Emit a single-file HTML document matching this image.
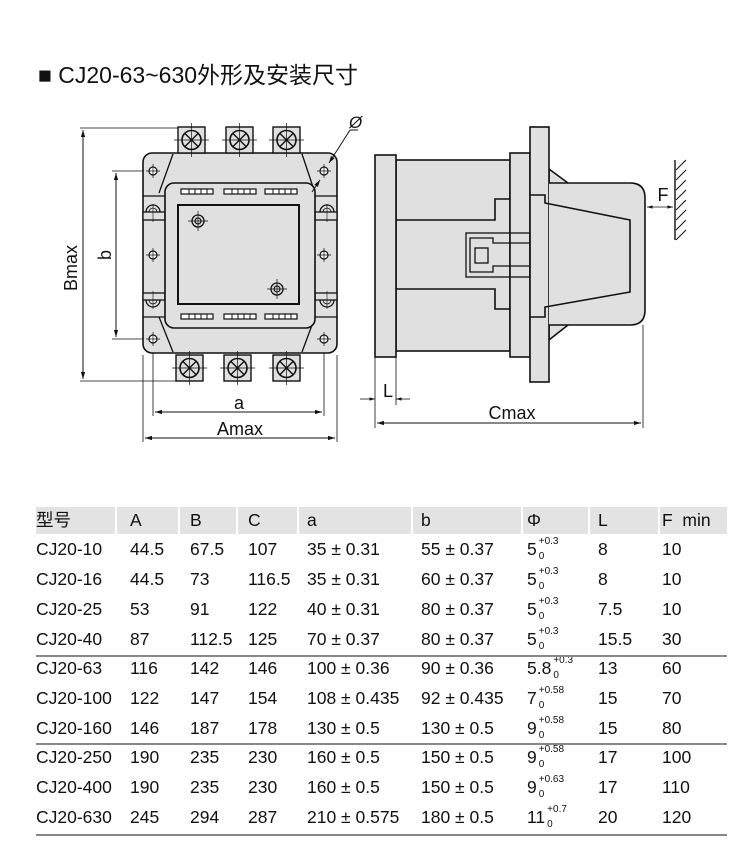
<!DOCTYPE html>
<html><head><meta charset="utf-8"><style>
body{margin:0;background:#fff;width:750px;height:863px;overflow:hidden;position:relative;font-family:"Liberation Sans","Noto Sans CJK SC",sans-serif;}
.t{position:absolute;left:38px;top:56px;font-size:23px;color:#111;white-space:nowrap}
.r{position:absolute;left:36px;height:20px;line-height:20px;font-size:17.5px;color:#111;display:flex;white-space:nowrap}
.r>span{display:block;position:relative}
.r>span:nth-child(1){width:94px}.r>span:nth-child(2){width:60px}.r>span:nth-child(3){width:58px}.r>span:nth-child(4){width:59px}
.r>span:nth-child(5){width:114px}.r>span:nth-child(6){width:106px}.r>span:nth-child(7){width:71px}.r>span:nth-child(8){width:64px}
.hb{position:absolute;top:507px;height:27px;background:#e3e3e3}
.p{display:inline-block;position:relative;line-height:20px}
.p i{font-style:normal;font-size:10px;line-height:10px;position:absolute;left:100%;top:-2px;margin-left:2px}
.p b{font-weight:normal;font-size:10px;line-height:10px;position:absolute;left:100%;top:13px;margin-left:2px}
.ln{position:absolute;left:36px;width:691px;height:2px;background:#888}
</style></head><body>
<div class="t">■ CJ20-63~630外形及安装尺寸</div>
<svg width="750" height="500" style="position:absolute;left:0;top:0" font-family="Liberation Sans, sans-serif">
<defs><marker id="ar" viewBox="0 0 10 10" refX="10" refY="5" markerWidth="7" markerHeight="7" orient="auto-start-reverse"><path d="M0,2 L10,5 L0,8z" fill="#111"/></marker>
<g id="term"><rect x="0" y="0" width="27" height="26" fill="#e0e0e0" stroke="#111" stroke-width="1.4"/><circle cx="13.5" cy="13" r="9.5" fill="none" stroke="#111" stroke-width="1.6"/><path d="M7,6.5L20,19.5M20,6.5L7,19.5" stroke="#111" stroke-width="1.4"/><path d="M-4,13H31M13.5,-4V30" stroke="#111" stroke-width=".7"/></g>
<g id="hole"><circle r="4" fill="#fff" stroke="#111" stroke-width="1.2"/><path d="M-7,0H7M0,-7V7" stroke="#111" stroke-width=".7"/></g>
<g id="scr"><circle r="6" fill="none" stroke="#111" stroke-width="1.3"/><circle r="3" fill="none" stroke="#111" stroke-width="1.2"/><path d="M-10,0H10M0,-10V10" stroke="#111" stroke-width=".7"/></g>
<g id="slot"><rect width="32" height="5" fill="#fff" stroke="#111" stroke-width="1.2"/><path d="M8,0V5M14,0V5M20,0V5M26,0V5" stroke="#111" stroke-width="1"/></g>
</defs>
<g stroke="#111" fill="none">
<path d="M80,128H178M80,381H178M112,171H153M112,339H153M153,345V416M324,345V416M143,355V442M337,355V442" stroke-width=".8"/>
<line x1="83" y1="130" x2="83" y2="379" stroke-width="1" marker-start="url(#ar)" marker-end="url(#ar)"/>
<line x1="116" y1="173" x2="116" y2="337" stroke-width="1" marker-start="url(#ar)" marker-end="url(#ar)"/>
<line x1="155" y1="412" x2="322" y2="412" stroke-width="1" marker-start="url(#ar)" marker-end="url(#ar)"/>
<line x1="145" y1="438" x2="335" y2="438" stroke-width="1" marker-start="url(#ar)" marker-end="url(#ar)"/>
</g>
<rect x="143" y="153" width="194" height="200" rx="9" fill="#e0e0e0" stroke="#111" stroke-width="1.6"/>
<use href="#term" x="178" y="127"/><use href="#term" x="226" y="127"/><use href="#term" x="273" y="127"/>
<use href="#term" x="176" y="355"/><use href="#term" x="224" y="355"/><use href="#term" x="273" y="355"/>
<g stroke="#111" fill="none" stroke-width="1.3">
<path d="M173,154L159,193M302,154L315,193M159,317L173,352M315,317L302,352"/>
<path d="M143,196H165M315,196H337M143,317H165M315,317H337"/>
<rect x="143" y="212" width="22" height="8" fill="#e0e0e0"/><rect x="315" y="212" width="22" height="8" fill="#e0e0e0"/>
<rect x="143" y="293" width="22" height="7" fill="#e0e0e0"/><rect x="315" y="293" width="22" height="7" fill="#e0e0e0"/>
<path d="M146,212A7,7 0 0 1 160,212M320,212A7,7 0 0 1 334,212M146,300A7,7 0 0 0 160,300M320,300A7,7 0 0 0 334,300"/>
<path d="M149,212A4,4 0 0 1 157,212M323,212A4,4 0 0 1 331,212M149,300A4,4 0 0 0 157,300M323,300A4,4 0 0 0 331,300" stroke-width=".8"/>
<path d="M153,204V222M327,204V222M153,291V309M327,291V309" stroke-width=".6"/>
</g>
<rect x="165" y="183" width="150" height="145" rx="9" fill="#e0e0e0" stroke="#111" stroke-width="1.6"/>
<rect x="178" y="205" width="121" height="99" fill="#e0e0e0" stroke="#111" stroke-width="2"/>
<use href="#slot" x="181" y="189"/><use href="#slot" x="224" y="189"/><use href="#slot" x="265" y="189"/>
<use href="#slot" x="181" y="314"/><use href="#slot" x="224" y="314"/><use href="#slot" x="265" y="314"/>
<use href="#scr" x="198" y="221"/><use href="#scr" x="277" y="289"/>
<use href="#hole" x="153" y="171"/><use href="#hole" x="324" y="171"/><use href="#hole" x="153" y="339"/><use href="#hole" x="324" y="339"/><use href="#hole" x="153" y="255"/><use href="#hole" x="324" y="255"/>
<g stroke="#111" fill="none" stroke-width="1">
<path d="M350,130H358"/>
<line x1="350" y1="130" x2="329" y2="163" marker-end="url(#ar)"/>
<line x1="312" y1="192" x2="320" y2="180" marker-end="url(#ar)"/>
</g>
<text x="349" y="128" font-size="17" font-style="italic" fill="#111">Ø</text>
<g font-size="18" fill="#111" text-anchor="middle">
<text transform="translate(77,268) rotate(-90)">Bmax</text>
<text transform="translate(111,255) rotate(-90)">b</text>
<text x="239" y="409">a</text>
<text x="240" y="435">Amax</text>
<text x="512" y="419">Cmax</text>
<text x="388" y="397">L</text>
<text x="663" y="201">F</text>
</g>
<g stroke="#111" stroke-width="1.6" fill="#e0e0e0" stroke-linejoin="miter">
<path d="M549,169L568,183L568,325L549,340Z"/>
<rect x="396" y="160" width="114" height="191"/>
<rect x="375" y="155" width="21" height="202"/>
<rect x="510" y="153" width="20" height="204"/>
<rect x="530" y="127" width="19" height="255"/>
<path d="M549,183H630Q645,183 645,198V310Q645,325 630,325H549"/>
<path d="M530,195H545V203L630,220V292L545,307V317H530" fill="none"/>
<path d="M396,220H495V199H510M396,289H495V309H510" fill="none"/>
<rect x="466" y="233" width="64" height="44" fill="none" stroke-width="1.3"/>
<path d="M530,243H493V238H470V272H493V266H530" fill="none" stroke-width="1.3"/>
<rect x="475" y="248" width="13" height="15" fill="none" stroke-width="1.3"/>
</g>
<g stroke="#111" fill="none" stroke-width=".8">
<path d="M375,357V428M396,357V405M643,325V428"/>
<path d="M675,160V240" stroke-width="1.4"/>
<path d="M676,170L686,160M676,180L686,170M676,190L686,180M676,200L686,190M676,210L686,200M676,220L686,210M676,230L686,220M676,240L686,230" stroke-width="1"/>
<line x1="360" y1="399" x2="375" y2="399" marker-end="url(#ar)"/>
<line x1="410" y1="399" x2="396" y2="399" marker-end="url(#ar)"/>
<line x1="377" y1="423" x2="641" y2="423" stroke-width="1" marker-start="url(#ar)" marker-end="url(#ar)"/>
<line x1="647" y1="207" x2="673" y2="207" marker-start="url(#ar)" marker-end="url(#ar)"/>
</g>
</svg>
<div class="hb" style="left:36px;width:79px"></div><div class="hb" style="left:117px;width:61px"></div><div class="hb" style="left:180px;width:56px"></div><div class="hb" style="left:238px;width:59px"></div><div class="hb" style="left:299px;width:112px"></div><div class="hb" style="left:413px;width:108px"></div><div class="hb" style="left:523px;width:65px"></div><div class="hb" style="left:590px;width:68px"></div><div class="hb" style="left:660px;width:67px"></div>
<div class="r" style="top:510px"><span>型号</span><span>A</span><span>B</span><span>C</span><span>a</span><span>b</span><span>Φ</span><span>L</span><span>F&nbsp; min</span></div>
<div class="r" style="top:539px"><span>CJ20-10</span><span>44.5</span><span>67.5</span><span>107</span><span>35 ± 0.31</span><span>55 ± 0.37</span><span><span class="p">5<i>+0.3</i><b>0</b></span></span><span>8</span><span>10</span></div>
<div class="r" style="top:569px"><span>CJ20-16</span><span>44.5</span><span>73</span><span>116.5</span><span>35 ± 0.31</span><span>60 ± 0.37</span><span><span class="p">5<i>+0.3</i><b>0</b></span></span><span>8</span><span>10</span></div>
<div class="r" style="top:599px"><span>CJ20-25</span><span>53</span><span>91</span><span>122</span><span>40 ± 0.31</span><span>80 ± 0.37</span><span><span class="p">5<i>+0.3</i><b>0</b></span></span><span>7.5</span><span>10</span></div>
<div class="r" style="top:629px"><span>CJ20-40</span><span>87</span><span>112.5</span><span>125</span><span>70 ± 0.37</span><span>80 ± 0.37</span><span><span class="p">5<i>+0.3</i><b>0</b></span></span><span>15.5</span><span>30</span></div>
<div class="r" style="top:658px"><span>CJ20-63</span><span>116</span><span>142</span><span>146</span><span>100 ± 0.36</span><span>90 ± 0.36</span><span><span class="p">5.8<i>+0.3</i><b>0</b></span></span><span>13</span><span>60</span></div>
<div class="r" style="top:688px"><span>CJ20-100</span><span>122</span><span>147</span><span>154</span><span>108 ± 0.435</span><span>92 ± 0.435</span><span><span class="p">7<i>+0.58</i><b>0</b></span></span><span>15</span><span>70</span></div>
<div class="r" style="top:718px"><span>CJ20-160</span><span>146</span><span>187</span><span>178</span><span>130 ± 0.5</span><span>130 ± 0.5</span><span><span class="p">9<i>+0.58</i><b>0</b></span></span><span>15</span><span>80</span></div>
<div class="r" style="top:747px"><span>CJ20-250</span><span>190</span><span>235</span><span>230</span><span>160 ± 0.5</span><span>150 ± 0.5</span><span><span class="p">9<i>+0.58</i><b>0</b></span></span><span>17</span><span>100</span></div>
<div class="r" style="top:777px"><span>CJ20-400</span><span>190</span><span>235</span><span>230</span><span>160 ± 0.5</span><span>150 ± 0.5</span><span><span class="p">9<i>+0.63</i><b>0</b></span></span><span>17</span><span>110</span></div>
<div class="r" style="top:807px"><span>CJ20-630</span><span>245</span><span>294</span><span>287</span><span>210 ± 0.575</span><span>180 ± 0.5</span><span><span class="p">11<i>+0.7</i><b>0</b></span></span><span>20</span><span>120</span></div>
<div class="ln" style="top:655px"></div>
<div class="ln" style="top:743px"></div>
<div class="ln" style="top:834px"></div>
</body></html>
